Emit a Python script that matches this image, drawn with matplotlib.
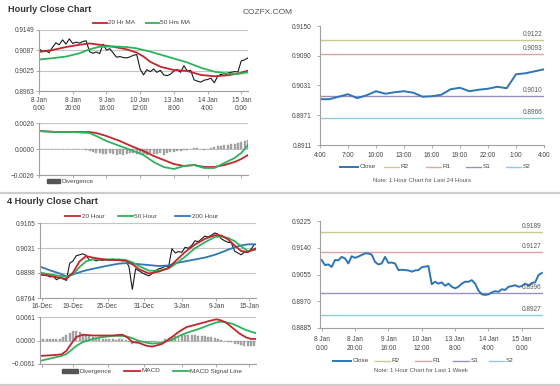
import numpy as np
import matplotlib
matplotlib.use("Agg")
import matplotlib.pyplot as plt
from matplotlib.lines import Line2D
from matplotlib.patches import Rectangle

plt.rcParams['font.family'] = ['Liberation Sans', 'DejaVu Sans']

# ---------------- data: hourly close chart (top left) ----------------
tl_hours = np.arange(0, 125, 2)
tl_close = [0.9092, 0.9084, 0.9086, 0.9080, 0.9096, 0.9110, 0.9104, 0.9119, 0.9106, 0.9122,
            0.9108, 0.9112, 0.9109, 0.9114, 0.9116, 0.9083, 0.9078, 0.9082, 0.9077, 0.9106,
            0.9088, 0.9092, 0.9079, 0.9066, 0.9068, 0.9065, 0.9064, 0.9067, 0.9072, 0.9074,
            0.9030, 0.9012, 0.9028, 0.9022, 0.9030, 0.9020, 0.9026, 0.9012, 0.9010, 0.9014,
            0.9024, 0.9028, 0.9020, 0.9040, 0.9024, 0.9026, 0.8997, 0.8993, 0.8990, 0.8996,
            0.8998, 0.9002, 0.8988, 0.9008, 0.9014, 0.9010, 0.9018, 0.9020, 0.9022, 0.9021,
            0.9055, 0.9058, 0.9064]
ma_hours = [0, 8, 16, 24, 30, 36, 44, 52, 58, 62, 66, 72, 80, 88, 96, 104, 112, 118, 124]
tl_ma20 = [0.9082, 0.9088, 0.9097, 0.9104, 0.9108, 0.9104, 0.9098, 0.9090, 0.9080, 0.9068,
           0.9052, 0.9037, 0.9027, 0.9024, 0.9012, 0.9008, 0.9011, 0.9016, 0.9025]
tl_ma50 = [0.9059, 0.9063, 0.9068, 0.9078, 0.9090, 0.9098, 0.9099, 0.9097, 0.9093, 0.9088,
           0.9083, 0.9074, 0.9062, 0.9050, 0.9034, 0.9022, 0.9016, 0.9015, 0.9020]
hour_ticks = [0, 20, 40, 60, 80, 100, 120]
hour_labels = ['8 Jan\n0:00', '8 Jan\n20:00', '9 Jan\n16:00', '10 Jan\n12:00',
               '13 Jan\n8:00', '14 Jan\n4:00', '15 Jan\n0:00']

tl_div = [0.0001, 0.0000, 0.0000, 0.00005, 0.0000, 0.0000, 0.00005, 0.0000, 0.0000, 0.0000,
          0.00005, 0.0000, 0.0000, 0.0000, -0.0001,
          -0.0002, -0.0003, -0.0004, -0.0004, -0.0005, -0.0005, -0.0004, -0.0005, -0.0006, -0.0005,
          -0.0006, -0.0005, -0.0004, -0.0004, -0.0005,
          -0.0004, -0.0005, -0.0006, -0.0004, -0.0005, -0.0005, -0.0004, -0.0006, -0.0004, -0.0003,
          -0.0003, -0.0002, -0.0002, -0.0001, -0.0001,
          0.0000, 0.0001, 0.0001, 0.0000, -0.0001, 0.0000, 0.0001, 0.0002, 0.0003, 0.0003,
          0.0004, 0.0004, 0.0005, 0.0005, 0.0006,
          0.0007, 0.0008, 0.0009]
macd_hours = [0, 10, 20, 30, 34, 40, 48, 56, 62, 68, 74, 80, 86, 92, 98, 104, 110, 116, 120, 124]
tl_red = [0.0018, 0.0017, 0.0017, 0.0017, 0.0016, 0.0013, 0.0008, 0.0002, -0.0002, -0.0007,
          -0.0011, -0.0015, -0.0017, -0.0016, -0.0018, -0.0018, -0.0016, -0.0013, -0.0010, -0.0006]
tl_green = [0.0018, 0.0017, 0.0017, 0.0016, 0.0013, 0.0008, 0.0003, -0.0002, -0.0006, -0.0013,
            -0.0018, -0.0020, -0.0017, -0.0016, -0.0019, -0.0019, -0.0014, -0.0009, -0.0004, 0.0004]

# ---------------- data: last 24 hours (top right) ----------------
day_hours = np.arange(0, 25)
day_close = [0.9003, 0.9003, 0.9008, 0.9013, 0.9005, 0.9011, 0.9019, 0.9014, 0.9017, 0.9019,
             0.9016, 0.9008, 0.9009, 0.9012, 0.9023, 0.9026, 0.9019, 0.9022, 0.9024, 0.9028,
             0.9025, 0.9053, 0.9055, 0.9059, 0.9063]
day_labels = ['4:00', '7:00', '10:00', '13:00', '16:00', '19:00', '22:00', '1:00', '4:00']
day_levels = {'R2': 0.9122, 'R1': 0.9093, 'S1': 0.9010, 'S2': 0.8966}

# ---------------- data: 4 hourly close chart (bottom left) ----------------
bl_bars = np.arange(0, 131, 2)
bl_close = [0.8893, 0.8885, 0.8889, 0.8876, 0.8880, 0.8862, 0.8872, 0.8866, 0.8858, 0.8950,
            0.8962, 0.8990, 0.8995, 0.9000, 0.8992, 0.8965, 0.8972, 0.8962, 0.8968, 0.8965,
            0.8970, 0.8966, 0.8972, 0.8968, 0.8970, 0.8962, 0.8966, 0.8930, 0.8810, 0.8920,
            0.8910, 0.8898, 0.8890, 0.8882, 0.8895, 0.8910, 0.8920, 0.8925, 0.8935, 0.8932,
            0.9028, 0.9005, 0.9012, 0.9008, 0.9035, 0.9030, 0.9045, 0.9070, 0.9065, 0.9080,
            0.9095, 0.9090, 0.9100, 0.9112, 0.9105, 0.9080, 0.9070, 0.9062, 0.9060, 0.9015,
            0.9005, 0.8995, 0.9010, 0.9008, 0.9025, 0.9050]
ma4_bars = [0, 6, 12, 16, 20, 24, 28, 32, 40, 48, 52, 56, 60, 66, 72, 78, 82, 88, 94, 100,
            106, 110, 114, 118, 122, 126, 131]
bl_ma20 = [0.8890, 0.8882, 0.8872, 0.8866, 0.8900, 0.8960, 0.8988, 0.8980, 0.8968, 0.8966,
           0.8963, 0.8945, 0.8918, 0.8895, 0.8905, 0.8925, 0.8960, 0.9010, 0.9050, 0.9080,
           0.9100, 0.9098, 0.9078, 0.9045, 0.9015, 0.9010, 0.9030]
bl_ma50 = [0.8900, 0.8890, 0.8882, 0.8878, 0.8890, 0.8930, 0.8960, 0.8970, 0.8971, 0.8970,
           0.8967, 0.8955, 0.8935, 0.8910, 0.8910, 0.8922, 0.8945, 0.8985, 0.9030, 0.9062,
           0.9090, 0.9093, 0.9085, 0.9068, 0.9040, 0.9015, 0.9022]
bl_ma200 = [0.8932, 0.8912, 0.8895, 0.8880, 0.8890, 0.8902, 0.8912, 0.8920, 0.8935, 0.8948,
            0.8950, 0.8948, 0.8945, 0.8940, 0.8935, 0.8938, 0.8950, 0.8960, 0.8970, 0.8980,
            0.8995, 0.9008, 0.9022, 0.9035, 0.9045, 0.9051, 0.9051]
date_ticks = [1, 20, 41, 63, 86, 107, 127]
date_labels = ['16-Dec', '19-Dec', '25-Dec', '31-Dec', '3-Jan', '9-Jan', '15-Jan']

bl_div = [0.0004, 0.0004, 0.0003, 0.0004, 0.0003, 0.0003,
          0.0004, 0.0008, 0.0014, 0.0020, 0.0024, 0.0025, 0.0022, 0.0018, 0.0014, 0.0011,
          0.0009, 0.0007, 0.0006, 0.0005, 0.0004, 0.0003, 0.0003, 0.0002, 0.0003, 0.0003,
          0.0001, -0.0005, -0.0008, -0.0006, -0.0004, -0.0005, -0.0006, -0.0007, -0.0005, -0.0003,
          -0.0002, -0.0001, 0.0003, 0.0006, 0.0009, 0.0011, 0.0012, 0.0013, 0.0014, 0.0014,
          0.0013, 0.0013, 0.0012, 0.0012, 0.0011, 0.0010, 0.0008, 0.0006, 0.0004, 0.0002,
          -0.0001, -0.0003, -0.0005, -0.0008, -0.0010, -0.0012, -0.0013, -0.0014, -0.0015, -0.0014]
macd4_bars = [0, 8, 13, 16, 19, 22, 26, 32, 36, 44, 50, 53, 56, 60, 64, 68, 74, 80, 85, 89,
              97, 103, 107, 110, 113, 117, 121, 125, 128, 131]
bl_macd = [-0.0040, -0.0038, -0.0036, -0.0027, -0.0008, 0.0009, 0.0015, 0.0013, 0.0013, 0.0013,
           0.0015, 0.0008, -0.0004, -0.0006, -0.0013, -0.0016, -0.0009, 0.0009, 0.0025, 0.0035,
           0.0044, 0.0051, 0.0055, 0.0052, 0.0046, 0.0032, 0.0018, 0.0008, 0.0004, 0.0004]
bl_signal = [-0.0053, -0.0045, -0.0040, -0.0035, -0.0025, -0.0014, -0.0004, 0.0004, 0.0008, 0.0012,
             0.0012, 0.0010, 0.0006, -0.0001, -0.0005, -0.0008, -0.0006, 0.0002, 0.0013, 0.0020,
             0.0031, 0.0041, 0.0047, 0.0049, 0.0047, 0.0043, 0.0035, 0.0027, 0.0023, 0.0019]

# ---------------- data: last 1 week (bottom right) ----------------
wk_hours = np.arange(0, 133, 2)
wk_close = [0.9101, 0.9085, 0.9087, 0.9079, 0.9101, 0.9100, 0.9111, 0.9106, 0.9090, 0.9113,
            0.9108, 0.9112, 0.9117, 0.9122, 0.9122, 0.9118, 0.9095, 0.9087, 0.9090, 0.9111,
            0.9092, 0.9093, 0.9090, 0.9069, 0.9070, 0.9069, 0.9068, 0.9064, 0.9068, 0.9069,
            0.9078, 0.9080, 0.9082, 0.9024, 0.9032, 0.9026, 0.9030, 0.9019, 0.9026, 0.9016,
            0.9011, 0.9016, 0.9026, 0.9032, 0.9032, 0.9037, 0.9026, 0.9004, 0.8992, 0.8990,
            0.8992, 0.8998, 0.9002, 0.9000, 0.9008, 0.9006, 0.9016, 0.9018, 0.9021, 0.9016,
            0.9018, 0.9026, 0.9020, 0.9028, 0.9030, 0.9053, 0.9060]
wk_levels = {'R2': 0.9189, 'R1': 0.9127, 'S1': 0.8996, 'S2': 0.8927}

level_colors = {'R2': '#c9c98f', 'R1': '#e2a3a3', 'S1': '#9a8fba', 'S2': '#8ccfd8'}
RED, GREEN, BLUE, CLOSE = '#c0272d', '#2db35d', '#2f78b8', '#2e75b6'

W, H = 560, 386
fig = plt.figure(figsize=(W / 100, H / 100), dpi=100)


def box(l, t, r, b):
    return [l / W, 1 - b / H, (r - l) / W, (b - t) / H]


def style(ax, grid=True):
    for s in ['top', 'right']:
        ax.spines[s].set_visible(False)
    for s in ['left', 'bottom']:
        ax.spines[s].set_color('#a0a0a0')
        ax.spines[s].set_linewidth(0.8)
    ax.tick_params(labelsize=4.7, colors='#a0a0a0', labelcolor='#444444',
                   length=2, width=0.6, pad=1.5)
    if grid:
        ax.grid(axis='y', color='#c4c4c4', lw=0.8)
        ax.set_axisbelow(True)


def ftext(x, y, s, **kw):
    fig.text(x / W, 1 - y / H, s, **kw)


def leg_line(x0, x1, y, color, label, lw=1.3):
    fig.add_artist(Line2D([x0 / W, x1 / W], [1 - y / H, 1 - y / H], color=color, lw=lw,
                          transform=fig.transFigure))
    ftext(x1 + 1.5, y, label, fontsize=4.6, color='#444444', va='center', ha='left')


def leg_patch(x0, x1, y, label):
    fig.add_artist(Rectangle((x0 / W, 1 - (y + 2) / H), (x1 - x0) / W, 4 / H,
                             color='#555555', transform=fig.transFigure))
    ftext(x1 + 1.5, y, label, fontsize=4.6, color='#444444', va='center', ha='left')


# titles
ftext(8, 10, 'Hourly Close Chart', fontsize=6.6, fontweight='bold', color='#333333', va='center')
ftext(7, 202, '4 Hourly Close Chart', fontsize=6.6, fontweight='bold', color='#333333', va='center')
ftext(243, 12, 'COZFX.COM', fontsize=6.0, color='#555555', va='center')

# separators
for y in [192.5, 385]:
    fig.add_artist(Line2D([0, 1], [1 - y / H, 1 - y / H], color='#cccccc', lw=1.6,
                          transform=fig.transFigure))

# ---- top left price ----
ax1 = fig.add_axes(box(39, 30, 248, 91))
ax1.plot(tl_hours, tl_close, color='#1a1a1a', lw=0.8)
ax1.plot(ma_hours, tl_ma20, color=RED, lw=1.3)
ax1.plot(ma_hours, tl_ma50, color=GREEN, lw=1.3)
ax1.set_xlim(0, 124)
ax1.set_ylim(0.8963, 0.9149)
ax1.set_yticks([0.8963, 0.9025, 0.9087, 0.9149])
ax1.yaxis.set_major_formatter('{x:.4f}')
ax1.set_xticks(hour_ticks)
ax1.set_xticklabels(hour_labels, linespacing=1.25)
style(ax1)
ax1.tick_params(axis='x', pad=2.5)
leg_line(93, 107, 23, RED, '20 Hr MA')
leg_line(146, 159, 23, GREEN, '50 Hrs MA')

# ---- top left divergence ----
ax2 = fig.add_axes(box(39, 123, 248, 175))
ax2.bar(tl_hours, tl_div, width=1.2, color='#a8a8a8', edgecolor='#888888', lw=0.2)
ax2.plot(macd_hours, tl_red, color=RED, lw=1.3)
ax2.plot(macd_hours, tl_green, color=GREEN, lw=1.3)
ax2.set_xlim(0, 124)
ax2.set_ylim(-0.0026, 0.0026)
ax2.set_yticks([-0.0026, 0.0, 0.0026])
ax2.yaxis.set_major_formatter('{x:.4f}')
ax2.set_xticks(hour_ticks)
ax2.set_xticklabels([])
style(ax2)
leg_patch(47, 60, 181, 'Divergence')

# ---- top right: last 24 hours ----
ax3 = fig.add_axes(box(320, 26, 544, 145))
for k, v in day_levels.items():
    ax3.axhline(v, color=level_colors[k], lw=1.0)
    ax3.annotate(f'{v:.4f}', (1, v), xycoords=('axes fraction', 'data'), xytext=(-1, 1.5),
                 textcoords='offset points', ha='right', va='bottom', fontsize=4.7, color='#555555')
ax3.plot(day_hours, day_close, color=CLOSE, lw=1.4)
ax3.set_xlim(0, 24)
ax3.set_ylim(0.8911, 0.9150)
ax3.set_yticks([0.8911, 0.8971, 0.9031, 0.9090, 0.9150])
ax3.yaxis.set_major_formatter('{x:.4f}')
ax3.set_xticks(range(0, 25, 3))
ax3.set_xticklabels(day_labels)
style(ax3, grid=False)
ax3.tick_params(axis='x', pad=3)
ax3.tick_params(axis='y', pad=4)
leg_line(340, 358, 166.7, CLOSE, 'Close', lw=1.4)
leg_line(384, 399, 166.7, level_colors['R2'], 'R2', lw=1.0)
leg_line(426, 441, 166.7, level_colors['R1'], 'R1', lw=1.0)
leg_line(466, 481, 166.7, level_colors['S1'], 'S1', lw=1.0)
leg_line(506, 521, 166.7, level_colors['S2'], 'S2', lw=1.0)
ftext(422, 180, 'Note: 1 Hour Chart for Last 24 Hours', fontsize=4.3, color='#555555',
      ha='center', va='center')

# ---- bottom left price ----
ax4 = fig.add_axes(box(40, 223, 256, 298))
ax4.plot(bl_bars, bl_close, color='#1a1a1a', lw=0.8)
ax4.plot(ma4_bars, bl_ma200, color=BLUE, lw=1.3)
ax4.plot(ma4_bars, bl_ma50, color=GREEN, lw=1.3)
ax4.plot(ma4_bars, bl_ma20, color=RED, lw=1.3)
ax4.set_xlim(0, 131)
ax4.set_ylim(0.8764, 0.9165)
ax4.set_yticks([0.8764, 0.8898, 0.9031, 0.9165])
ax4.yaxis.set_major_formatter('{x:.4f}')
ax4.set_xticks(date_ticks)
ax4.set_xticklabels(date_labels)
style(ax4)
leg_line(65, 80, 216, RED, '20 Hour')
leg_line(118, 133, 216, GREEN, '50 Hour')
leg_line(175, 190, 216, BLUE, '200 Hour')

# ---- bottom left MACD ----
ax5 = fig.add_axes(box(40, 317, 256, 364))
ax5.bar(bl_bars, bl_div, width=1.2, color='#a8a8a8', edgecolor='#888888', lw=0.2)
ax5.plot(macd4_bars, bl_signal, color=GREEN, lw=1.3)
ax5.plot(macd4_bars, bl_macd, color=RED, lw=1.3)
ax5.set_xlim(0, 131)
ax5.set_ylim(-0.0061, 0.0061)
ax5.set_yticks([-0.0061, 0.0, 0.0061])
ax5.yaxis.set_major_formatter('{x:.4f}')
ax5.set_xticks(date_ticks)
ax5.set_xticklabels([])
style(ax5)
leg_patch(62, 78, 371, 'Divergence')
leg_line(124, 140, 371, RED, 'MACD')
leg_line(173, 189, 371, GREEN, 'MACD Signal Line')

# ---- bottom right: last 1 week ----
ax6 = fig.add_axes(box(320, 221, 543, 328))
for k, v in wk_levels.items():
    ax6.axhline(v, color=level_colors[k], lw=1.0)
    ax6.annotate(f'{v:.4f}', (1, v), xycoords=('axes fraction', 'data'), xytext=(-1, 1.5),
                 textcoords='offset points', ha='right', va='bottom', fontsize=4.7, color='#555555')
ax6.plot(wk_hours, wk_close, color=CLOSE, lw=1.4)
ax6.set_xlim(-1, 132.7)
ax6.set_ylim(0.8885, 0.9225)
ax6.set_yticks([0.8885, 0.8970, 0.9055, 0.9140, 0.9225])
ax6.yaxis.set_major_formatter('{x:.4f}')
ax6.set_xticks(hour_ticks)
ax6.set_xticklabels(hour_labels, linespacing=1.25)
style(ax6, grid=False)
ax6.tick_params(axis='x', pad=4)
ax6.tick_params(axis='y', pad=4)
leg_line(333, 351, 360.7, CLOSE, 'Close', lw=1.4)
leg_line(375, 390, 360.7, level_colors['R2'], 'R2', lw=1.0)
leg_line(415, 431, 360.7, level_colors['R1'], 'R1', lw=1.0)
leg_line(453, 469, 360.7, level_colors['S1'], 'S1', lw=1.0)
leg_line(489, 504, 360.7, level_colors['S2'], 'S2', lw=1.0)
ftext(421, 370.7, 'Note: 1 Hour Chart for Last 1 Week', fontsize=4.3, color='#555555',
      ha='center', va='center')

fig.savefig('out.png', dpi=100)
